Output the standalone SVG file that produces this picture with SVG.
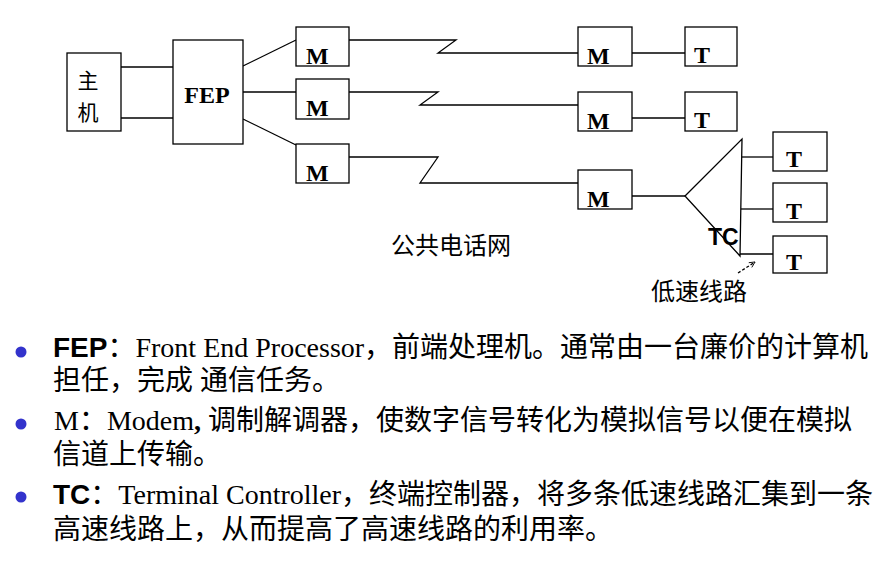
<svg xmlns="http://www.w3.org/2000/svg" width="881" height="580" viewBox="0 0 881 580">
<style>
.box{fill:#fff;stroke:#000;stroke-width:1.3}
.ln{fill:none;stroke:#000;stroke-width:1.3}
.lbl{font-family:"Liberation Serif","Noto Sans CJK SC",serif;font-weight:bold;font-size:24px;fill:#000}
.cn{font-family:"Noto Sans CJK SC",sans-serif;fill:#000}
.txt{font-family:"Liberation Serif","Noto Sans CJK SC",serif;font-size:28px;fill:#000}
.b{font-family:"Liberation Sans","Noto Sans CJK SC",sans-serif;font-weight:bold}
.dot{fill:#3333cc}
</style>
<defs>
<marker id="ah" viewBox="0 0 10 10" refX="9" refY="5" markerWidth="7" markerHeight="7" orient="auto" markerUnits="userSpaceOnUse">
<path d="M1,1 L9,5 L1,9" fill="none" stroke="#000" stroke-width="1.2"/>
</marker>
</defs>
<rect width="881" height="580" fill="#fff"/>
<g id="connectors">
<line class="ln" x1="121" y1="67" x2="173" y2="67"/>
<line class="ln" x1="121" y1="118" x2="173" y2="118"/>
<line class="ln" x1="243" y1="66" x2="296" y2="40"/>
<line class="ln" x1="243" y1="92" x2="296" y2="92"/>
<line class="ln" x1="243" y1="119" x2="296" y2="145"/>
<polyline class="ln" points="349,40 456,40 438,53 578,53"/>
<polyline class="ln" points="349,92 438,92 420,105 578,105"/>
<polyline class="ln" points="349,157 438,157 420,183 578,183"/>
<line class="ln" x1="632" y1="53" x2="685" y2="53"/>
<line class="ln" x1="632" y1="118" x2="685" y2="118"/>
<line class="ln" x1="632" y1="196" x2="685" y2="196"/>
<line class="ln" x1="742" y1="157" x2="773" y2="157"/>
<line class="ln" x1="741" y1="209" x2="773" y2="209"/>
<line class="ln" x1="740" y1="254" x2="773" y2="254"/>
<line class="ln" x1="738" y1="273" x2="755" y2="262" stroke-dasharray="3,2" stroke-width="1" marker-end="url(#ah)"/>
</g>
<g id="host">
<rect class="box" x="67" y="53" width="54" height="78"/>
<text class="cn" x="88" y="88" font-size="21" text-anchor="middle">主</text>
<text class="cn" x="88" y="120" font-size="21" text-anchor="middle">机</text>
</g>
<g id="fep">
<rect class="box" x="173" y="40" width="70" height="104"/>
<text class="lbl" x="207" y="103" font-size="25" text-anchor="middle">FEP</text>
</g>
<g id="m1"><rect class="box" x="296" y="27" width="53" height="39"/><text class="lbl" x="306" y="64">M</text></g>
<g id="m2"><rect class="box" x="296" y="79" width="53" height="40"/><text class="lbl" x="306" y="116">M</text></g>
<g id="m3"><rect class="box" x="296" y="144" width="53" height="39"/><text class="lbl" x="306" y="181">M</text></g>
<g id="rm1"><rect class="box" x="578" y="27" width="54" height="39"/><text class="lbl" x="587" y="64">M</text></g>
<g id="rm2"><rect class="box" x="578" y="92" width="54" height="39"/><text class="lbl" x="587" y="129">M</text></g>
<g id="rm3"><rect class="box" x="578" y="170" width="54" height="39"/><text class="lbl" x="587" y="207">M</text></g>
<g id="t1"><rect class="box" x="685" y="27" width="52" height="39"/><text class="lbl" x="694" y="63">T</text></g>
<g id="t2"><rect class="box" x="685" y="92" width="52" height="39"/><text class="lbl" x="694" y="128">T</text></g>
<g id="t3"><rect class="box" x="773" y="132" width="54" height="39"/><text class="lbl" x="786" y="167">T</text></g>
<g id="t4"><rect class="box" x="773" y="183" width="54" height="39"/><text class="lbl" x="786" y="219">T</text></g>
<g id="t5"><rect class="box" x="773" y="236" width="54" height="37"/><text class="lbl" x="786" y="270">T</text></g>
<g id="tc">
<polygon class="ln" points="685,196 742,139 740,256"/>
<text x="708" y="245" font-family="Liberation Sans,sans-serif" font-weight="bold" font-size="23" fill="#000">TC</text>
</g>
<g id="labels">
<text class="cn" x="391" y="254" font-size="24">公共电话网</text>
<text class="cn" x="651" y="300" font-size="24">低速线路</text>
</g>
<g id="notes">
<circle class="dot" cx="21" cy="352" r="5.5"/>
<circle class="dot" cx="21" cy="424" r="5.5"/>
<circle class="dot" cx="21" cy="497" r="5.5"/>
<text class="txt" x="53" y="357"><tspan class="b">FEP</tspan>：Front End Processor，前端处理机。通常由一台廉价的计算机</text>
<text class="txt" x="53" y="390">担任，完成 通信任务。</text>
<text class="txt" x="54" y="430">M：Modem<tspan font-weight="bold">,</tspan> 调制解调器，使数字信号转化为模拟信号以便在模拟</text>
<text class="txt" x="53" y="464">信道上传输。</text>
<text class="txt" x="53" y="504"><tspan class="b">TC</tspan>：Terminal Controller，终端控制器，将多条低速线路汇集到一条</text>
<text class="txt" x="53" y="539">高速线路上，从而提高了高速线路的利用率。</text>
</g>
</svg>
